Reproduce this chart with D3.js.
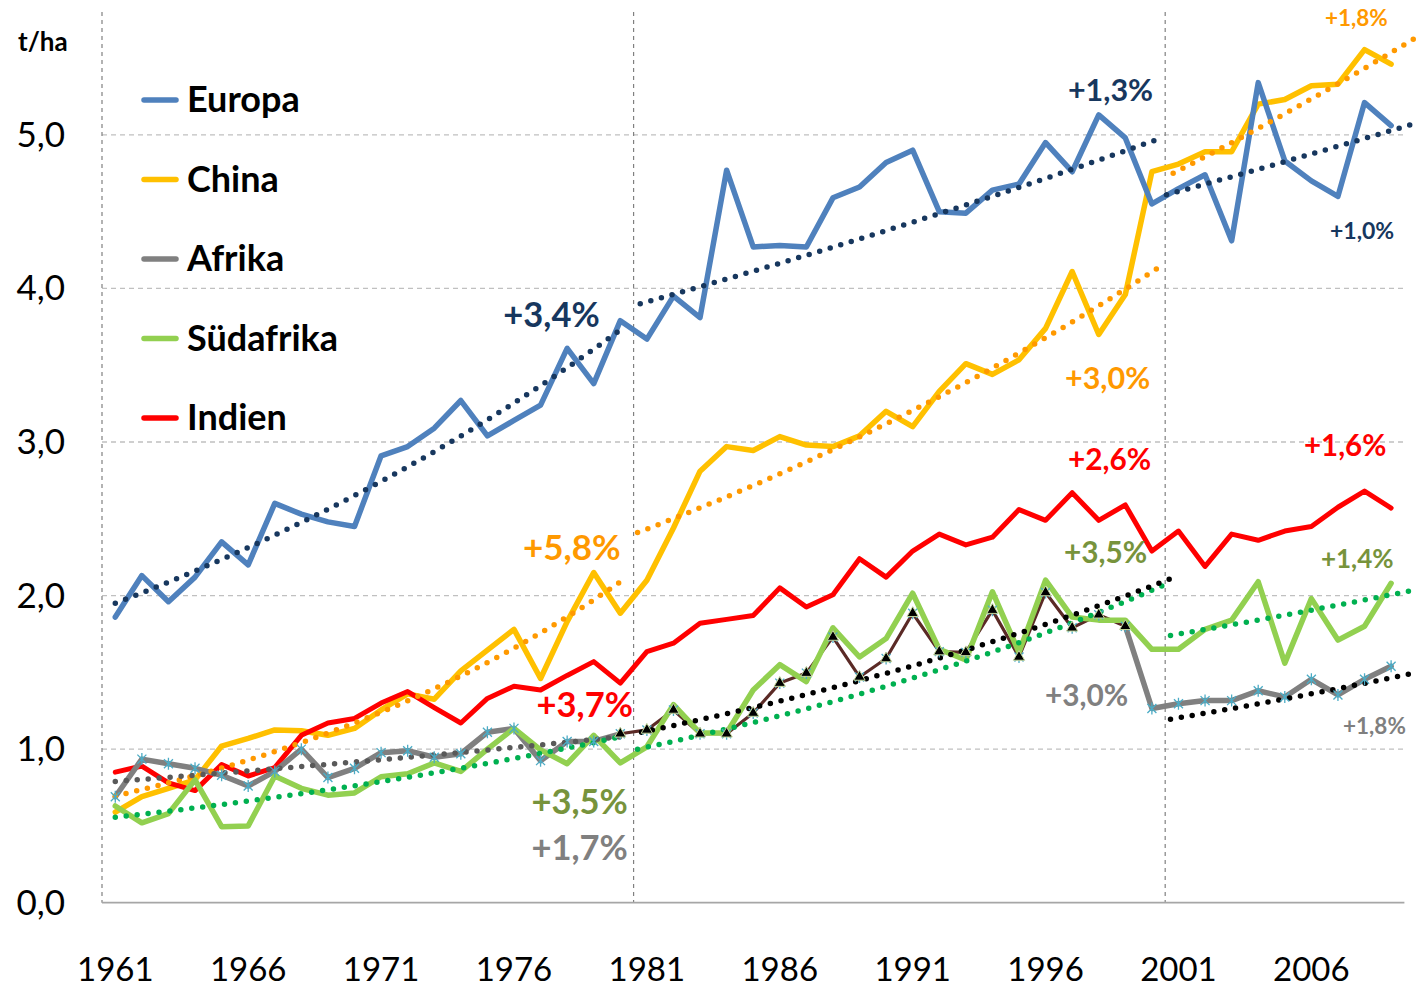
<!DOCTYPE html>
<html>
<head>
<meta charset="utf-8">
<script src="https://cdn.jsdelivr.net/npm/d3@7"></script>
<style>
  body { margin: 0; background: #fff; }
  text { font-family: Lato, "Open Sans", sans-serif; }
</style>
</head>
<body>
<svg id="chart" width="1428" height="990"></svg>
<script>

// years on the category axis
const years = [
  1961, 1962, 1963, 1964, 1965, 1966, 1967, 1968, 1969, 1970,
  1971, 1972, 1973, 1974, 1975, 1976, 1977, 1978, 1979, 1980,
  1981, 1982, 1983, 1984, 1985, 1986, 1987, 1988, 1989, 1990,
  1991, 1992, 1993, 1994, 1995, 1996, 1997, 1998, 1999, 2000,
  2001, 2002, 2003, 2004, 2005, 2006, 2007, 2008, 2009
];

// yields in t/ha
const europa = [
  1.86, 2.13, 1.96, 2.12, 2.35, 2.20, 2.60, 2.53, 2.48, 2.45,
  2.91, 2.97, 3.09, 3.27, 3.04, 3.14, 3.24, 3.61, 3.38, 3.79,
  3.67, 3.95, 3.81, 4.77, 4.27, 4.28, 4.27, 4.59, 4.66, 4.82,
  4.90, 4.50, 4.49, 4.64, 4.68, 4.95, 4.76, 5.13, 4.98, 4.55,
  4.65, 4.74, 4.31, 5.34, 4.83, 4.70, 4.60, 5.21, 5.06
];

const china = [
  0.59, 0.69, 0.745, 0.80, 1.02, 1.07, 1.125, 1.12, 1.09, 1.135,
  1.255, 1.36, 1.325, 1.51, 1.645, 1.78, 1.46, 1.83, 2.15, 1.885,
  2.10, 2.44, 2.81, 2.97, 2.945, 3.035, 2.98, 2.97, 3.04, 3.20,
  3.10, 3.33, 3.51, 3.44, 3.535, 3.74, 4.11, 3.70, 3.96, 4.76,
  4.81, 4.89, 4.89, 5.20, 5.23, 5.32, 5.33, 5.555, 5.46
];

const afrika = [
  0.69, 0.935, 0.905, 0.875, 0.83, 0.76, 0.855, 1.00, 0.815, 0.875,
  0.977, 0.99, 0.947, 0.97, 1.11, 1.135, 0.925, 1.05, 1.05, 1.10,
  1.125, 1.255, 1.10, 1.10, 1.235, 1.43, 1.495, 1.73, 1.47, 1.59,
  1.885, 1.635, 1.63, 1.905, 1.60, 2.02, 1.79, 1.875, 1.80, 1.265,
  1.295, 1.316, 1.316, 1.38, 1.34, 1.455, 1.353, 1.455, 1.54
];

const suedafrika = [
  0.63, 0.52, 0.58, 0.80, 0.495, 0.50, 0.825, 0.745, 0.70, 0.715,
  0.82, 0.84, 0.91, 0.855, 1.00, 1.135, 0.995, 0.905, 1.09, 0.91,
  1.015, 1.29, 1.105, 1.105, 1.385, 1.55, 1.44, 1.79, 1.60, 1.72,
  2.015, 1.65, 1.58, 2.025, 1.63, 2.10, 1.86, 1.84, 1.84, 1.65,
  1.65, 1.78, 1.84, 2.09, 1.56, 1.98, 1.71, 1.80, 2.08
];

const indien = [
  0.85, 0.89, 0.78, 0.73, 0.90, 0.825, 0.88, 1.09, 1.17, 1.20,
  1.30, 1.375, 1.27, 1.17, 1.33, 1.41, 1.385, 1.48, 1.57, 1.43,
  1.635, 1.69, 1.82, 1.845, 1.87, 2.05, 1.925, 2.005, 2.24, 2.12,
  2.29, 2.40, 2.33, 2.38, 2.56, 2.49, 2.67, 2.49, 2.59, 2.29,
  2.42, 2.19, 2.40, 2.36, 2.42, 2.45, 2.575, 2.68, 2.57
];

const seriesNames = ["Europa", "China", "Afrika", "Südafrika", "Indien"];

const yTicks = [0, 1, 2, 3, 4, 5];
const xTickYears = [1961, 1966, 1971, 1976, 1981, 1986, 1991, 1996, 2001, 2006];

// exponential trend lines: [year start, value start, year end, value end]
const trendEuropa = [[1961, 1.95, 1980, 3.73], [1980.75, 3.90, 2000.2, 4.97], [2000.55, 4.61, 2010, 5.08]];
const trendChina = [[1961, 0.695, 1980, 2.09], [1980.65, 2.41, 2000.2, 4.13], [2000.8, 4.75, 2010, 5.64]];
const trendSuedafrika = [[1961, 0.556, 1980, 1.08], [1980.65, 1.00, 2000.6, 2.08], [2000.7, 1.74, 2010, 2.04]];
const trendAfrika = [[1961, 0.79, 1980, 1.08], [1980.8, 1.11, 2000.85, 2.12], [2000.7, 1.195, 2010, 1.50]];

// growth rate labels (text only)
const growthLabels = [
  "+3,4%", "+1,3%", "+1,0%",
  "+5,8%", "+3,0%", "+1,8%",
  "+3,7%", "+2,6%", "+1,6%",
  "+3,5%", "+3,5%", "+1,4%",
  "+1,7%", "+3,0%", "+1,8%"
];

/*
|--------------------------------------------------------------------------
| Layout
|--------------------------------------------------------------------------
*/

const plot = { left: 102, right: 1404.4, top: 12, bottom: 902.7 };

const colors = {
  Europa: "#4F81BD",
  China: "#FFC000",
  Afrika: "#808080",
  "Südafrika": "#92D050",
  Indien: "#FF0000"
};

const svg = d3.select("#chart");

const x = d3.scaleLinear()
  .domain([years[0] - 0.5, years[years.length - 1] + 0.5])
  .range([plot.left, plot.right]);

const y = d3.scaleLinear()
  .domain([0, 5.8])
  .range([plot.bottom, plot.top]);

const line = d3.line()
  .x(d => x(d[0]))
  .y(d => y(d[1]));

const pairs = vals => years.map((yr, i) => [yr, vals[i]]);
const between = (vals, a, b) => pairs(vals).filter(d => d[0] >= a && d[0] <= b);

/*
|--------------------------------------------------------------------------
| Gridlines and axes
|--------------------------------------------------------------------------
*/

svg.append("g")
  .selectAll("line")
  .data(yTicks.filter(t => t > 0))
  .enter()
  .append("line")
  .attr("x1", plot.left)
  .attr("x2", plot.right)
  .attr("y1", d => y(d))
  .attr("y2", d => y(d))
  .attr("stroke", "#C0C0C0")
  .attr("stroke-width", 1.3)
  .attr("stroke-dasharray", "5 4");

// y axis line + vertical separators between the periods
svg.append("g")
  .selectAll("line")
  .data([years[0] - 0.5, 1980.5, 2000.5])
  .enter()
  .append("line")
  .attr("x1", d => x(d))
  .attr("x2", d => x(d))
  .attr("y1", plot.top)
  .attr("y2", plot.bottom)
  .attr("stroke", "#808080")
  .attr("stroke-width", 1.2)
  .attr("stroke-dasharray", "4 4");

svg.append("line")
  .attr("x1", plot.left)
  .attr("x2", plot.right)
  .attr("y1", plot.bottom)
  .attr("y2", plot.bottom)
  .attr("stroke", "#A6A6A6")
  .attr("stroke-width", 1.8);

svg.append("g")
  .selectAll("text")
  .data(yTicks)
  .enter()
  .append("text")
  .attr("x", 65)
  .attr("y", d => y(d) + 12)
  .attr("text-anchor", "end")
  .attr("font-size", 35)
  .attr("fill", "#000")
  .text(d => d3.format(".1f")(d).replace(".", ","));

svg.append("g")
  .selectAll("text")
  .data(xTickYears)
  .enter()
  .append("text")
  .attr("x", d => x(d))
  .attr("y", 981)
  .attr("text-anchor", "middle")
  .attr("font-size", 33)
  .attr("fill", "#000")
  .text(d => d);

svg.append("text")
  .attr("x", 18)
  .attr("y", 51)
  .attr("font-size", 26)
  .attr("font-weight", "bold")
  .text("t/ha");

/*
|--------------------------------------------------------------------------
| Series lines
|--------------------------------------------------------------------------
*/

const drawLine = (data, color, width) => svg.append("path")
  .attr("d", line(data))
  .attr("fill", "none")
  .attr("stroke", color)
  .attr("stroke-width", width)
  .attr("stroke-linejoin", "round")
  .attr("stroke-linecap", "round");

drawLine(pairs(china), colors.China, 5.5);
drawLine(pairs(indien), colors.Indien, 5);
drawLine(between(afrika, 1961, 1980), colors.Afrika, 5.5);
drawLine(between(afrika, 1999, 2009), colors.Afrika, 5.5);
drawLine(between(afrika, 1980, 1999), "#5B2A26", 3.2);
drawLine(pairs(suedafrika), colors["Südafrika"], 5.5);
drawLine(pairs(europa), colors.Europa, 5.5);

/*
|--------------------------------------------------------------------------
| Exponential trend lines (dotted)
|--------------------------------------------------------------------------
*/

function drawTrends(trends, trendColors) {
  trends.forEach((tr, k) => {
    const [t0, v0, t1, v1] = tr;
    const growth = Math.log(v1 / v0) / (t1 - t0);
    const pts = d3.range(t0, t1 + 0.001, 0.25)
      .concat([t1])
      .map(t => [t, v0 * Math.exp(growth * (t - t0))]);
    svg.append("path")
      .attr("d", line(pts))
      .attr("fill", "none")
      .attr("stroke", trendColors[k])
      .attr("stroke-width", 5.5)
      .attr("stroke-linecap", "round")
      .attr("stroke-dasharray", "0 11");
  });
}

drawTrends(trendEuropa, ["#17375E", "#17375E", "#17375E"]);
drawTrends(trendChina, ["#FF9900", "#FF9900", "#FF9900"]);
drawTrends(trendSuedafrika, ["#00B050", "#00B050", "#00B050"]);
drawTrends(trendAfrika, ["#595959", "#000000", "#000000"]);

/*
|--------------------------------------------------------------------------
| Afrika markers
|--------------------------------------------------------------------------
*/

svg.append("g")
  .selectAll("path")
  .data(pairs(afrika))
  .enter()
  .append("path")
  .attr("transform", d => `translate(${x(d[0])},${y(d[1])})`)
  .attr("d", "M-4.5,-4.5L4.5,4.5M-4.5,4.5L4.5,-4.5M0,-6L0,6")
  .attr("stroke", "#4BACC6")
  .attr("stroke-width", 1.3);

svg.append("g")
  .selectAll("path")
  .data(between(afrika, 1980, 1999))
  .enter()
  .append("path")
  .attr("transform", d => `translate(${x(d[0])},${y(d[1])})`)
  .attr("d", d3.symbol(d3.symbolTriangle, 55))
  .attr("fill", "#000")
  .attr("stroke", "#C4D79B")
  .attr("stroke-width", 1);

/*
|--------------------------------------------------------------------------
| Legend
|--------------------------------------------------------------------------
*/

const legend = svg.append("g");
seriesNames.forEach((name, i) => {
  const ly = 100 + i * 79.5;
  legend.append("line")
    .attr("x1", 144).attr("x2", 176)
    .attr("y1", ly).attr("y2", ly)
    .attr("stroke", colors[name])
    .attr("stroke-width", 5.5)
    .attr("stroke-linecap", "round");
  legend.append("text")
    .attr("x", 187)
    .attr("y", ly + 12)
    .attr("font-size", 36)
    .attr("font-weight", "bold")
    .attr("fill", "#000")
    .text(name);
});

/*
|--------------------------------------------------------------------------
| Growth rate annotations (year, value anchor + style)
|--------------------------------------------------------------------------
*/

const labelStyle = [
  { at: [1975.6, 3.75], size: 34.5, color: "#17375E" },
  { at: [1996.84, 5.22], size: 30.5, color: "#17375E" },
  { at: [2006.7, 4.32], size: 23, color: "#17375E" },
  { at: [1976.34, 2.23], size: 35, color: "#FF9900" },
  { at: [1996.73, 3.345], size: 30.5, color: "#FF9900" },
  { at: [2006.51, 5.71], size: 22.5, color: "#FF9900" },
  { at: [1976.85, 1.21], size: 34.5, color: "#FF0000" },
  { at: [1996.84, 2.82], size: 29.8, color: "#FF0000" },
  { at: [2005.72, 2.91], size: 29.5, color: "#FF0000" },
  { at: [1976.66, 0.58], size: 34.5, color: "#77933C" },
  { at: [1996.69, 2.21], size: 29.8, color: "#77933C" },
  { at: [2006.36, 2.18], size: 26, color: "#77933C" },
  { at: [1976.66, 0.28], size: 34.5, color: "#808080" },
  { at: [1995.98, 1.28], size: 29.8, color: "#808080" },
  { at: [2007.19, 1.10], size: 22.5, color: "#7F7F7F" }
];

svg.append("g")
  .selectAll("text")
  .data(growthLabels)
  .enter()
  .append("text")
  .attr("x", (d, i) => x(labelStyle[i].at[0]))
  .attr("y", (d, i) => y(labelStyle[i].at[1]))
  .attr("font-size", (d, i) => labelStyle[i].size)
  .attr("font-weight", "bold")
  .attr("fill", (d, i) => labelStyle[i].color)
  .text(d => d);

</script>
</body>
</html>
